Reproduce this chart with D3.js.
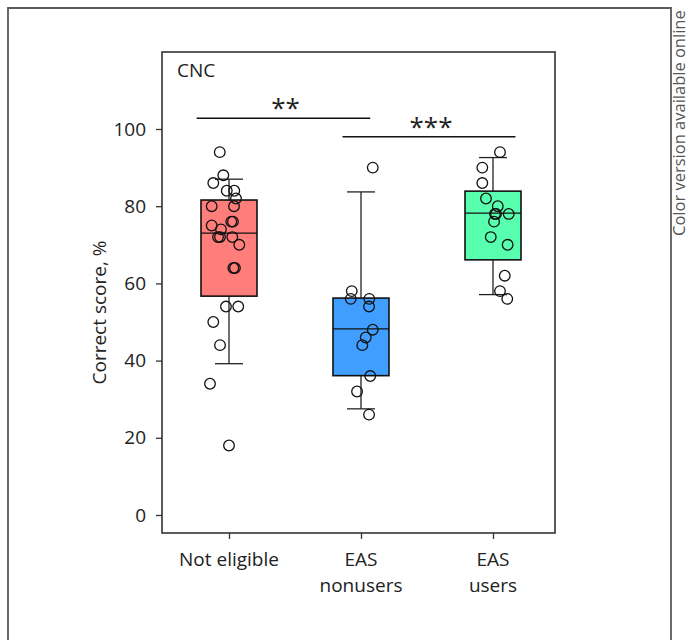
<!DOCTYPE html>
<html>
<head>
<meta charset="utf-8">
<script src="https://cdn.jsdelivr.net/npm/d3@7"></script>
<style>
  body { margin: 0; background: #fff; }
  text { font-family: "Open Sans", "Noto Sans", sans-serif; fill: #222; }
</style>
</head>
<body>
<div id="my_dataviz"></div>
<script>
// groups and tick labels
var groups = ["Not eligible", "EAS nonusers", "EAS users"];
var groupLines = [["Not eligible"], ["EAS", "nonusers"], ["EAS", "users"]];
var yTicks = [0, 20, 40, 60, 80, 100];
var colors = ["#ff7d7b", "#3f9eff", "#58ffae"];

// box stats
var q1 = [56.7, 36.1, 66.1];
var median = [73, 48.2, 78.2];
var q3 = [81.6, 56.2, 83.9];
var whiskLo = [39.2, 27.5, 57.1];
var whiskHi = [87, 83.7, 92.6];

// individual scores and their horizontal jitter (in group units)
var scoresNotEligible = [94, 88, 86, 84, 84, 82, 80, 80, 76, 76, 75, 74, 72, 72, 72, 70, 64, 64, 54, 54, 50, 44, 34, 18];
var jitterNotEligible = [-0.07, -0.043, -0.119, 0.04, -0.017, 0.053, -0.131, 0.038, 0.03, 0.017, -0.131, -0.061, -0.083, -0.068, 0.025, 0.078, 0.033, 0.045, -0.023, 0.07, -0.119, -0.068, -0.144, 0];
var scoresNonusers = [90, 58, 56, 56, 54, 48, 46, 44, 36, 32, 26];
var jitterNonusers = [0.089, -0.07, -0.078, 0.063, 0.061, 0.089, 0.036, 0.01, 0.07, -0.03, 0.061];
var scoresUsers = [94, 90, 86, 82, 80, 78, 78, 78, 76, 72, 70, 62, 58, 56];
var jitterUsers = [0.053, -0.081, -0.081, -0.053, 0.036, 0.023, 0.119, 0.015, 0.008, -0.017, 0.111, 0.089, 0.053, 0.108];

// significance brackets
var sigFrom = [-0.245, 0.86];
var sigTo = [1.07, 2.17];
var sigY = [102.8, 98];
var sigLabel = ["**", "***"];

var panelLabel = "CNC";
var yLabel = "Correct score, %";
var note = "Color version available online";

var W = 689, H = 640;
var frame = {left: 162, top: 52, right: 555, bottom: 533};

var svg = d3.select("#my_dataviz")
  .append("svg")
  .attr("width", W)
  .attr("height", H);

// outer figure border (bottom is cut off)
svg.append("path")
  .attr("d", "M8,650V8H671V650")
  .attr("fill", "none")
  .attr("stroke", "#5a5a5a")
  .attr("stroke-width", 1.8);

svg.append("text")
  .attr("transform", "translate(685,236) rotate(-90)")
  .attr("font-size", 16.5)
  .style("fill", "#555")
  .text(note);

var x = d3.scaleLinear().domain([0, 2]).range([229, 493]);
var y = d3.scaleLinear().domain([0, 100]).range([515, 129]);

// y axis
var yAxis = svg.append("g")
  .attr("transform", "translate(" + frame.left + ",0)")
  .call(d3.axisLeft(y).tickValues(yTicks).tickSize(6).tickPadding(10));
yAxis.select(".domain").remove();
yAxis.selectAll("line").attr("stroke", "#333").attr("stroke-width", 1.3);
yAxis.selectAll("text").attr("font-size", 19).attr("font-family", null).style("fill", "#222");

// x axis
var xAxis = svg.append("g")
  .attr("transform", "translate(0," + frame.bottom + ")")
  .call(d3.axisBottom(x).tickValues([0, 1, 2]).tickSize(6).tickFormat(""));
xAxis.select(".domain").remove();
xAxis.selectAll("line").attr("stroke", "#333").attr("stroke-width", 1.3);

groupLines.forEach(function(lines, i) {
  lines.forEach(function(s, j) {
    svg.append("text")
      .attr("x", x(i))
      .attr("y", 566 + j * 26)
      .attr("text-anchor", "middle")
      .attr("font-size", 19)
      .text(s);
  });
});

svg.append("text")
  .attr("transform", "translate(106," + ((frame.top + frame.bottom) / 2 + 20) + ") rotate(-90)")
  .attr("text-anchor", "middle")
  .attr("font-size", 19)
  .text(yLabel);

// frame
svg.append("rect")
  .attr("x", frame.left)
  .attr("y", frame.top)
  .attr("width", frame.right - frame.left)
  .attr("height", frame.bottom - frame.top)
  .attr("fill", "none")
  .attr("stroke", "#333")
  .attr("stroke-width", 1.6);

svg.append("text")
  .attr("x", 177)
  .attr("y", 77)
  .attr("font-size", 19)
  .text(panelLabel);

// boxes
var boxW = 56, capW = 28;
groups.forEach(function(g, i) {
  var cx = x(i);
  svg.append("line")
    .attr("x1", cx).attr("x2", cx)
    .attr("y1", y(whiskLo[i])).attr("y2", y(whiskHi[i]))
    .attr("stroke", "#222").attr("stroke-width", 1.3);
  [whiskLo[i], whiskHi[i]].forEach(function(v) {
    svg.append("line")
      .attr("x1", cx - capW / 2).attr("x2", cx + capW / 2)
      .attr("y1", y(v)).attr("y2", y(v))
      .attr("stroke", "#222").attr("stroke-width", 1.3);
  });
  svg.append("rect")
    .attr("x", cx - boxW / 2)
    .attr("y", y(q3[i]))
    .attr("width", boxW)
    .attr("height", y(q1[i]) - y(q3[i]))
    .attr("fill", colors[i])
    .attr("stroke", "#111")
    .attr("stroke-width", 1.6);
  svg.append("line")
    .attr("x1", cx - boxW / 2).attr("x2", cx + boxW / 2)
    .attr("y1", y(median[i])).attr("y2", y(median[i]))
    .attr("stroke", "#111").attr("stroke-width", 1.3);
});

// points
var allScores = [scoresNotEligible, scoresNonusers, scoresUsers];
var allJitter = [jitterNotEligible, jitterNonusers, jitterUsers];
allScores.forEach(function(arr, i) {
  svg.append("g").selectAll("circle")
    .data(arr)
    .enter().append("circle")
    .attr("cx", function(d, k) { return x(i + allJitter[i][k]); })
    .attr("cy", function(d) { return y(d); })
    .attr("r", 5.3)
    .attr("fill", "none")
    .attr("stroke", "#111")
    .attr("stroke-width", 1.3);
});

// significance
sigLabel.forEach(function(s, i) {
  svg.append("line")
    .attr("x1", x(sigFrom[i])).attr("x2", x(sigTo[i]))
    .attr("y1", y(sigY[i])).attr("y2", y(sigY[i]))
    .attr("stroke", "#111").attr("stroke-width", 1.6);
  svg.append("text")
    .attr("x", (x(sigFrom[i]) + x(sigTo[i])) / 2 + 2)
    .attr("y", y(sigY[i]) - 1)
    .attr("text-anchor", "middle")
    .attr("font-size", 26)
    .text(s);
});
</script>
</body>
</html>
